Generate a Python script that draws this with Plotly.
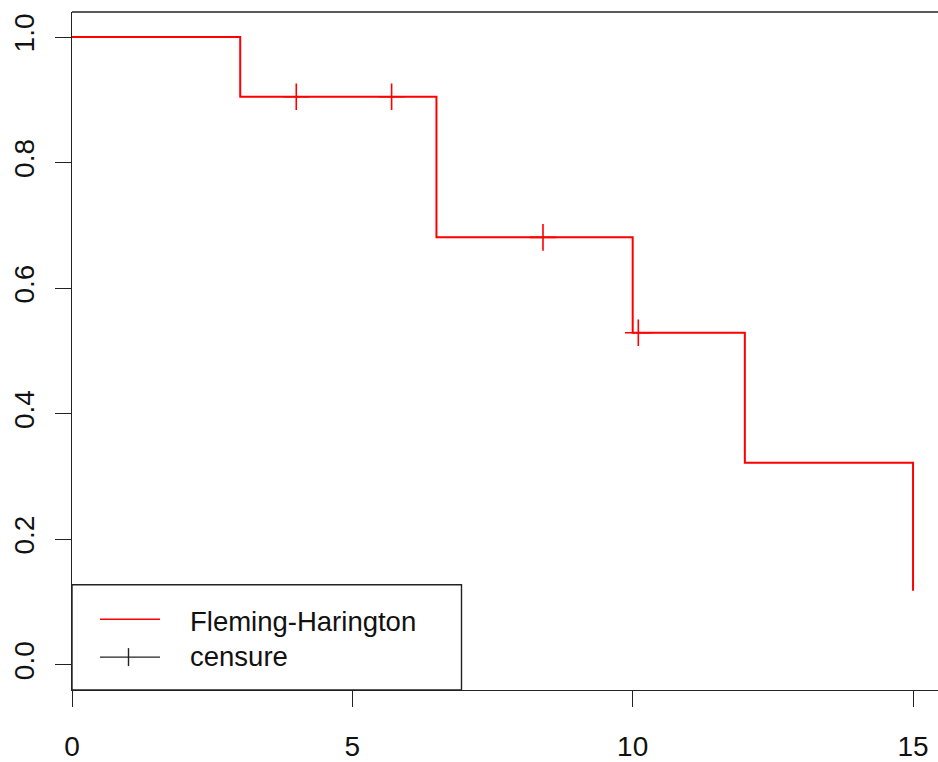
import plotly.graph_objects as go

# Fleming-Harrington survival estimate (step function)
event_times = [0, 3, 6.5, 10, 12, 15]
survival = [1.0, 0.905, 0.681, 0.529, 0.322, 0.118]

# censored observations
censor_times = [4.0, 5.7, 8.4, 10.1]
censor_surv = [0.905, 0.905, 0.681, 0.529]

x_ticks = [0, 5, 10, 15]
y_ticks = [0.0, 0.2, 0.4, 0.6, 0.8, 1.0]
y_tick_text = ["0.0", "0.2", "0.4", "0.6", "0.8", "1.0"]

W, H = 938, 762
L, R, T, B = 72, 0, 12, 70
pw, ph = W - L - R, H - T - B

FONT = "Liberation Sans, Arial, sans-serif"
AXIS_COLOR = "#222222"

fig = go.Figure()

fig.add_trace(go.Scatter(
    x=event_times, y=survival, mode="lines",
    line=dict(color="#ff0000", width=2, shape="hv"),
    showlegend=False, hoverinfo="skip",
))

fig.add_trace(go.Scatter(
    x=censor_times, y=censor_surv, mode="markers",
    marker=dict(symbol="cross-thin", size=19, color="#ff0000",
                line=dict(color="#ff0000", width=1.6)),
    showlegend=False, hoverinfo="skip",
))


def px_x(p):
    return (p - L) / pw


def px_y(p):
    return (H - B - p) / ph


shapes = [
    # top border of the plotting frame
    dict(type="line", xref="paper", yref="paper", x0=0, x1=1, y0=1, y1=1,
         line=dict(color=AXIS_COLOR, width=1.4)),
    # legend box
    dict(type="rect", xref="paper", yref="paper",
         x0=0, x1=px_x(461.5), y0=0, y1=px_y(586.5),
         line=dict(color=AXIS_COLOR, width=1.4), fillcolor="white", layer="above"),
    # legend key: survival curve
    dict(type="line", xref="paper", yref="paper",
         x0=px_x(100), x1=px_x(160), y0=px_y(621), y1=px_y(621),
         line=dict(color="#ff0000", width=1.6), layer="above"),
    # legend key: censoring mark
    dict(type="line", xref="paper", yref="paper",
         x0=px_x(100), x1=px_x(160), y0=px_y(659), y1=px_y(659),
         line=dict(color=AXIS_COLOR, width=1.4), layer="above"),
    dict(type="line", xref="paper", yref="paper",
         x0=px_x(128.5), x1=px_x(128.5), y0=px_y(650), y1=px_y(668),
         line=dict(color=AXIS_COLOR, width=1.4), layer="above"),
]

annotations = [
    dict(text="Fleming-Harington", xref="paper", yref="paper",
         x=px_x(188), y=px_y(623), xanchor="left", yanchor="middle",
         showarrow=False, font=dict(family=FONT, size=27.5, color="#111111")),
    dict(text="censure", xref="paper", yref="paper",
         x=px_x(188), y=px_y(658), xanchor="left", yanchor="middle",
         showarrow=False, font=dict(family=FONT, size=27.5, color="#111111")),
]

fig.update_layout(
    width=W, height=H,
    margin=dict(l=L, r=R, t=T, b=B, pad=0),
    paper_bgcolor="white", plot_bgcolor="white",
    showlegend=False,
    shapes=shapes, annotations=annotations,
    xaxis=dict(
        range=[0, pw / 56.07], tickvals=x_ticks, ticktext=[str(v) for v in x_ticks],
        showgrid=False, zeroline=False,
        showline=True, linecolor=AXIS_COLOR, linewidth=1.4,
        ticks="outside", ticklen=16, tickwidth=1.4, tickcolor=AXIS_COLOR,
        ticklabelstandoff=15,
        tickfont=dict(family=FONT, size=28, color="#111111"),
    ),
    yaxis=dict(
        range=[-0.04, 1.04], tickvals=y_ticks, ticktext=y_tick_text,
        showgrid=False, zeroline=False,
        showline=True, linecolor=AXIS_COLOR, linewidth=1.4,
        ticks="outside", ticklen=16, tickwidth=1.4, tickcolor=AXIS_COLOR,
        tickangle=-90, ticklabelstandoff=10,
        tickfont=dict(family=FONT, size=28, color="#111111"),
    ),
)

fig.write_html("out.html")
